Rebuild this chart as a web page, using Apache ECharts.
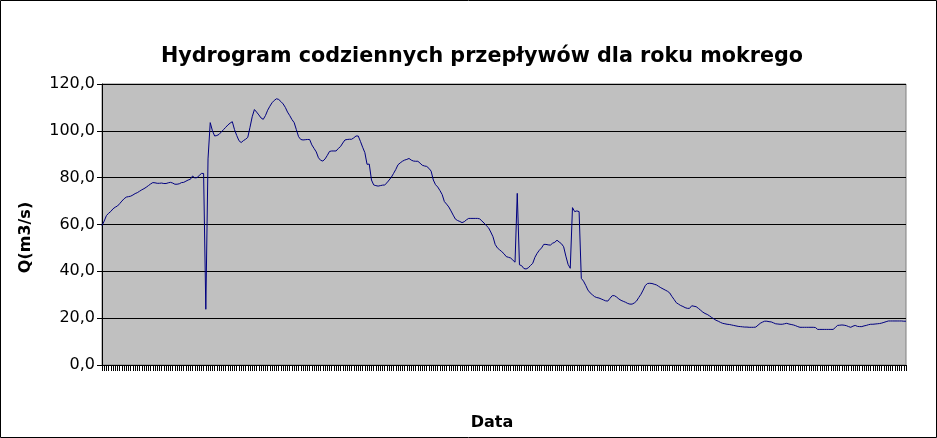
<!DOCTYPE html>
<html>
<head>
<meta charset="utf-8">
<script src="https://cdn.jsdelivr.net/npm/echarts@6/dist/echarts.min.js"></script>
<style>
html,body{margin:0;padding:0;background:#fff;}
#chart{width:937px;height:438px;}
</style>
</head>
<body>
<div id="chart"></div>
<script>
// Hydrological year: 1 XI - 31 X (365 days)
const startDate = [2000, 10, 1]; // year, month index (0-based), day
const dayCount = 365;
const yTicks = [0, 20, 40, 60, 80, 100, 120];

const flows = [
59.5, 61.5, 63.8, 64.8, 65.6, 66.7, 67.4, 67.9, 68.9, 70.0,
71.0, 71.7, 71.9, 72.1, 72.6, 73.2, 73.6, 74.2, 74.8, 75.3,
75.9, 76.6, 77.3, 77.9, 77.8, 77.6, 77.6, 77.7, 77.5, 77.5,
77.8, 78.0, 77.7, 77.2, 77.2, 77.4, 77.9, 78.0, 78.5, 79.0,
79.3, 80.7, 79.9, 80.0, 80.9, 81.8, 81.8, 23.8, 88.0, 103.5,
100.0, 97.8, 98.0, 98.5, 99.5, 100.5, 101.5, 102.5, 103.3, 103.9,
100.5, 98.0, 95.8, 95.0, 95.8, 96.4, 97.2, 101.5, 106.0, 109.1,
108.0, 106.8, 105.5, 104.9, 106.5, 108.8, 110.5, 112.0, 113.0, 113.7,
113.4, 112.5, 111.5, 110.0, 108.0, 106.5, 104.8, 103.5, 100.5, 97.5,
96.3, 96.1, 96.2, 96.3, 96.3, 94.0, 92.5, 91.0, 88.5, 87.4,
87.1, 88.0, 89.5, 91.2, 91.4, 91.4, 91.4, 92.5, 93.3, 94.8,
96.1, 96.3, 96.4, 96.4, 97.0, 97.8, 97.8, 95.5, 93.0, 90.7,
85.7, 85.8, 79.0, 76.9, 76.6, 76.4, 76.6, 76.8, 76.9, 77.8,
79.0, 80.2, 81.8, 83.5, 85.5, 86.3, 87.0, 87.5, 87.8, 88.2,
87.5, 87.1, 87.0, 87.0, 86.2, 85.3, 85.0, 84.8, 84.0, 82.8,
79.0, 77.0, 76.0, 74.5, 72.8, 69.8, 68.7, 67.5, 65.8, 64.0,
62.3, 61.7, 61.3, 60.8, 61.2, 62.0, 62.6, 62.6, 62.6, 62.6,
62.6, 62.4, 61.5, 60.6, 59.5, 58.6, 56.8, 54.8, 51.5, 50.0,
49.2, 48.4, 47.5, 46.3, 46.0, 45.7, 44.8, 43.9, 73.3, 42.8,
42.4, 41.2, 41.0, 41.5, 42.5, 43.4, 46.0, 47.7, 49.0, 50.0,
51.5, 51.5, 51.3, 51.2, 52.0, 52.4, 53.3, 52.5, 51.8, 50.5,
46.5, 43.0, 41.3, 67.2, 65.5, 65.8, 65.5, 37.0, 35.8, 34.0,
32.0, 30.8, 30.0, 29.2, 28.8, 28.6, 28.2, 27.8, 27.4, 27.3,
28.5, 29.6, 29.6, 29.0, 28.2, 27.6, 27.2, 26.8, 26.3, 26.0,
26.0, 26.5, 27.3, 28.8, 30.2, 32.0, 34.0, 34.8, 34.9, 34.8,
34.5, 34.2, 33.6, 33.0, 32.5, 32.0, 31.5, 30.8, 29.3, 28.0,
26.6, 26.0, 25.4, 25.0, 24.5, 24.2, 24.2, 25.3, 25.1, 24.9,
24.2, 23.4, 22.6, 22.0, 21.6, 21.0, 20.3, 19.7, 19.1, 18.7,
18.2, 17.8, 17.6, 17.4, 17.3, 17.1, 16.9, 16.7, 16.5, 16.4,
16.3, 16.2, 16.2, 16.1, 16.1, 16.1, 16.2, 17.0, 17.8, 18.3,
18.7, 18.7, 18.5, 18.4, 18.0, 17.6, 17.5, 17.4, 17.4, 17.6,
17.8, 17.5, 17.3, 17.1, 16.8, 16.4, 16.1, 16.1, 16.1, 16.1,
16.1, 16.1, 16.1, 16.0, 15.2, 15.2, 15.2, 15.2, 15.2, 15.2,
15.2, 15.2, 16.0, 16.9, 17.0, 17.1, 17.0, 16.8, 16.4, 16.1,
16.6, 16.9, 16.5, 16.4, 16.4, 16.7, 16.9, 17.2, 17.4, 17.4,
17.5, 17.6, 17.7, 17.9, 18.2, 18.5, 18.8, 18.8, 18.8, 18.8,
18.8, 18.8, 18.8, 18.7, 18.7
];

const dates = [];
for (let i = 0; i < dayCount; i++) {
  const d = new Date(startDate[0], startDate[1], startDate[2] + i);
  const dd = String(d.getDate()).padStart(2, '0');
  const mm = String(d.getMonth() + 1).padStart(2, '0');
  dates.push(dd + '.' + mm + '.' + d.getFullYear());
}

const chart = echarts.init(document.getElementById('chart'), null, {renderer: 'canvas'});
const FONT = 'DejaVu Sans';
chart.setOption({
  animation: false,
  backgroundColor: '#ffffff',
  textStyle: {fontFamily: FONT},
  title: {
    text: 'Hydrogram codziennych przepływów dla roku mokrego',
    left: 156,
    top: 41,
    textStyle: {fontFamily: FONT, fontSize: 20.7, fontWeight: 'bold', color: '#000'}
  },
  graphic: [{
    type: 'rect',
    shape: {x: 0.5, y: 0.5, width: 936, height: 437},
    style: {fill: 'none', stroke: '#000', lineWidth: 1},
    silent: true
  }],
  grid: {
    left: 102, right: 31, top: 84, bottom: 73,
    show: true,
    backgroundColor: '#C0C0C0',
    borderColor: '#808080',
    borderWidth: 1
  },
  xAxis: {
    type: 'category',
    data: dates,
    boundaryGap: false,
    name: 'Data',
    nameLocation: 'middle',
    nameGap: 50,
    nameTextStyle: {fontFamily: FONT, fontSize: 16, fontWeight: 'bold', color: '#000', padding: [0, 24, 0, 0]},
    axisLine: {lineStyle: {color: '#000', width: 1}},
    axisTick: {show: true, interval: 0, length: 6, lineStyle: {color: '#000', width: 1}},
    axisLabel: {show: false},
    splitLine: {show: false}
  },
  yAxis: {
    type: 'value',
    min: yTicks[0],
    max: yTicks[yTicks.length - 1],
    interval: 20,
    name: 'Q(m3/s)',
    nameLocation: 'middle',
    nameGap: 68,
    nameTextStyle: {fontFamily: FONT, fontSize: 16, fontWeight: 'bold', color: '#000', padding: [0, 26, 0, 0]},
    axisLine: {show: true, lineStyle: {color: '#000', width: 1}},
    axisTick: {show: true, length: 5, lineStyle: {color: '#000'}},
    axisLabel: {
      fontFamily: FONT, fontSize: 16, color: '#000', margin: 7,
      formatter: v => v.toFixed(1).replace('.', ',')
    },
    splitLine: {show: true, lineStyle: {color: '#000', width: 1}}
  },
  series: [{
    type: 'line',
    data: flows,
    showSymbol: false,
    symbol: 'none',
    lineStyle: {color: '#000080', width: 1},
    itemStyle: {color: '#000080'}
  }]
});
</script>
</body>
</html>
